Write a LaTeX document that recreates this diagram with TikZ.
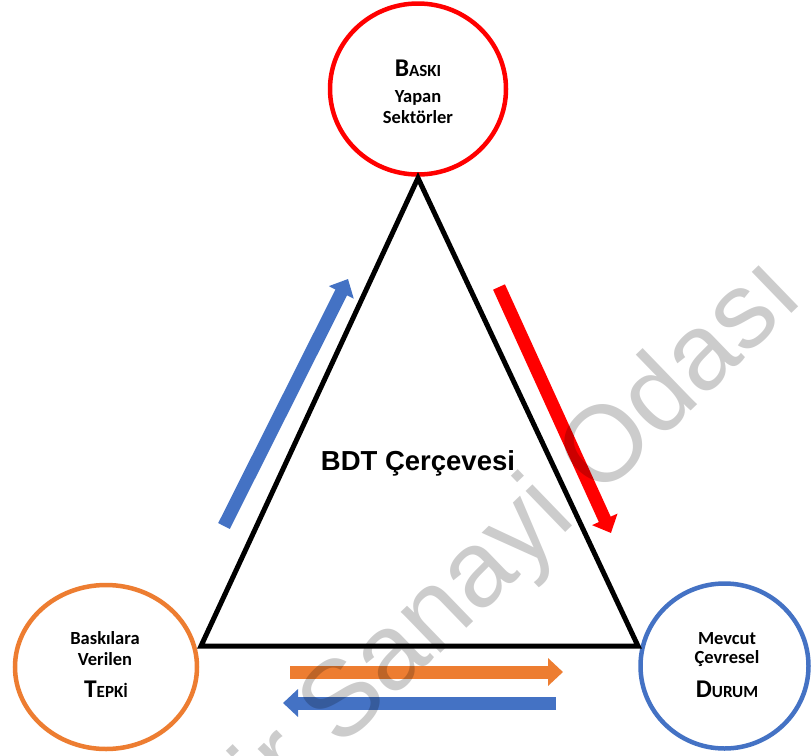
\documentclass[tikz,border=0pt]{standalone}
\usepackage{fontspec}
\setmainfont{Carlito}
\newfontfamily\arialf{Liberation Sans}
\usetikzlibrary{shapes.geometric,arrows.meta}
\definecolor{ored}{HTML}{FF0000}
\definecolor{oorange}{HTML}{ED7D31}
\definecolor{oblue}{HTML}{4472C4}
\newcommand\mysc[2]{{\fontsize{25.5}{25}\selectfont #1}{\fontsize{17}{17}\selectfont #2}}
\begin{document}
\begin{tikzpicture}[x=1pt,y=-1pt,
  ring/.style={ellipse, draw, line width=4.5pt, inner sep=0pt},
  lbl/.style={anchor=base, inner sep=0pt, font={\bfseries\fontsize{18.5}{20}\selectfont}},
  blockarrow/.style={line width=13pt, -{Triangle[width=27pt,length=15pt]}},
]
\useasboundingbox (0,0) rectangle (811,755);
\fill[white] (0,0) rectangle (811,755);

% circles
\node[ring, draw=ored, minimum width=176pt, minimum height=171pt] (pres) at (418,89) {};
\node[ring, draw=oorange, minimum width=182pt, minimum height=164pt] (resp) at (106,667) {};
\node[ring, draw=oblue, minimum width=168pt, minimum height=165pt] (state) at (724.5,666) {};

% triangle
\coordinate (apex) at (418,178);
\coordinate (bl) at (201,646);
\coordinate (br) at (638,646);
\draw[line width=5pt, line join=miter] (apex) -- (bl) -- (br) -- cycle;

% labels
\node[lbl] (p1) at (418,76) {\mysc{B}{ASKI}};
\node[lbl] (p2) at (418,102) {Yapan};
\node[lbl] (p3) at (418,123) {Sektörler};

\node[lbl] (r1) at (105,644) {Baskılara};
\node[lbl] (r2) at (105,665) {Verilen};
\node[lbl] (r3) at (106,697) {\mysc{T}{EPKİ}};

\node[lbl] (s1) at (727,644) {Mevcut};
\node[lbl] (s2) at (727,663) {Çevresel};
\node[lbl] (s3) at (727,697) {\mysc{D}{URUM}};

\node[anchor=base, inner sep=0pt, font={\arialf\bfseries\fontsize{27.5}{30}\selectfont}] (bdt) at (418,470) {BDT Çerçevesi};

% arrows
\coordinate (ba1) at (224,526); \coordinate (ba2) at (348,279);
\draw[blockarrow, draw=oblue] (ba1) -- (ba2);
\coordinate (ra1) at (499,287); \coordinate (ra2) at (611,533);
\draw[blockarrow, draw=ored] (ra1) -- (ra2);
\coordinate (oa1) at (290,672); \coordinate (oa2) at (563,672);
\draw[blockarrow, draw=oorange] (oa1) -- (oa2);
\coordinate (bb1) at (556,703); \coordinate (bb2) at (283,703);
\draw[blockarrow, draw=oblue] (bb1) -- (bb2);

% watermark
\begin{scope}
\clip (0,0) rectangle (811,755);
\node[rotate=44, anchor=base west, inner sep=0pt, text=black, text opacity=0.2,
      font={\arialf\fontsize{108}{108}\selectfont}] (wm) at (340,750) {\llap{ir\ }Sanayi Odası};
\end{scope}
\end{tikzpicture}
\end{document}
